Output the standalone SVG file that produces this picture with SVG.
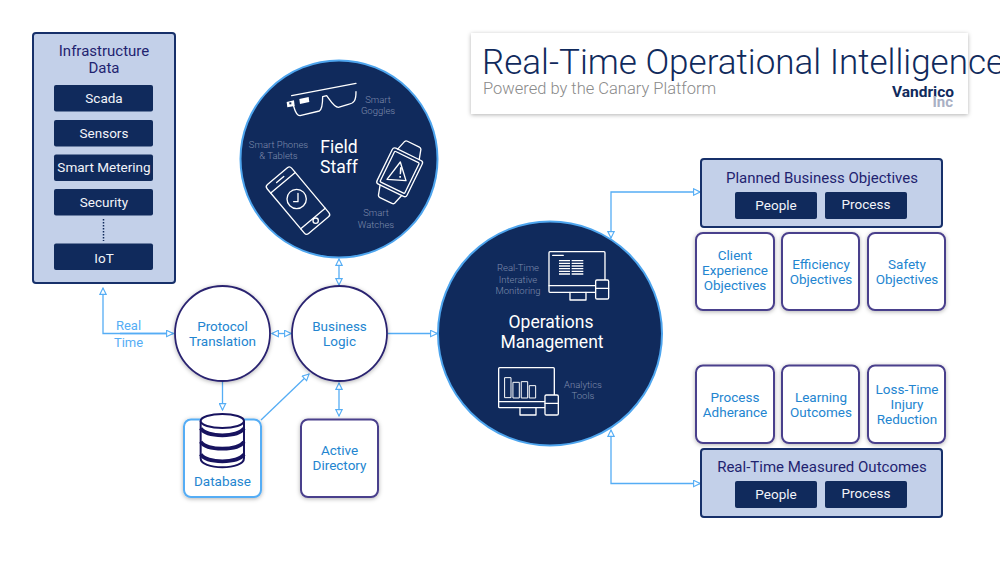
<svg xmlns="http://www.w3.org/2000/svg" width="1000" height="563" viewBox="0 0 1000 563">
<style>
text{font-family:Roboto,"Liberation Sans",sans-serif;text-anchor:middle}
.panel{fill:#c3d0e9;stroke:#17306a;stroke-width:2}
.chip{fill:#102a5c}
.chipt{fill:#f2f4f9;font-size:13.5px}
.head{fill:#1f2370;font-size:15px}
.card{fill:#fff;stroke:#4a3f8c;stroke-width:2;filter:url(#sh)}
.cardt{fill:#2385d0;font-size:13.5px}
.big{fill:#102a5c;stroke:#4ea5ee;stroke-width:2}
.bigt{fill:#fff;font-size:17.5px}
.cap{fill:#7f8cac;font-size:9.5px;font-weight:300}
.ic{fill:none;stroke:#fff;stroke-width:4;stroke-linejoin:round;stroke-linecap:round}
.icf{fill:#102a5c;stroke:#fff;stroke-width:4;stroke-linejoin:round}
.con{fill:none;stroke:#55adf5;stroke-width:1.3;marker-end:url(#ah)}
.two{marker-start:url(#ah)}
.db{fill:#fff;stroke:#17135f;stroke-width:6}
</style>
<defs>
<filter id="sh" x="-15%" y="-15%" width="130%" height="130%"><feDropShadow dx="0" dy="1" stdDeviation="2" flood-color="#000" flood-opacity=".3"/></filter>
<marker id="ah" viewBox="0 0 10 10" refX="9" refY="5" markerWidth="8" markerHeight="8" markerUnits="userSpaceOnUse" orient="auto-start-reverse"><path d="M1 1L9 5L1 9Z" fill="#fff" stroke="#55adf5" stroke-width="1.4"/></marker>
</defs>
<rect width="1000" height="563" fill="#fff"/>

<g id="connectors">
<path class="con" d="M174 333.5H103V288"/>
<path class="con" d="M174 333.5H103" style="display:none"/>
<path class="con" d="M120 333.5H173"/>
<path class="con two" d="M272 333.5H291"/>
<path class="con" d="M222.5 381V410"/>
<path class="con" d="M261 420L309 374"/>
<path class="con two" d="M339 383V416"/>
<path class="con two" d="M339 259V285"/>
<path class="con" d="M388 333.5H437"/>
<path class="con two" d="M611 238V192H700"/>
<path class="con two" d="M611 430V483.500H700"/>
</g>

<g id="infrastructure-data">
<rect class="panel" x="33" y="33" width="142" height="250" rx="3"/>
<text class="head" x="104" y="56">Infrastructure</text>
<text class="head" x="104" y="73">Data</text>
<rect class="chip" x="54" y="85" width="99" height="26.500" rx="2"/><text class="chipt" x="104" y="102.500">Scada</text>
<rect class="chip" x="54" y="120" width="99" height="26.500" rx="2"/><text class="chipt" x="104" y="137.500">Sensors</text>
<rect class="chip" x="54" y="154.500" width="99" height="26.500" rx="2"/><text class="chipt" x="104" y="172">Smart Metering</text>
<rect class="chip" x="54" y="189" width="99" height="26.500" rx="2"/><text class="chipt" x="104" y="206.500">Security</text>
<path d="M103.500 219V241" stroke="#102a5c" stroke-width="1.500" stroke-dasharray="1.500 1.500" fill="none"/>
<rect class="chip" x="54" y="243.500" width="99" height="26.500" rx="2"/><text class="chipt" x="104" y="263">IoT</text>
</g>

<g id="real-time-label"><text x="128.500" y="330" fill="#55adf5" font-size="13">Real</text><text x="128.500" y="347" fill="#55adf5" font-size="13">Time</text></g>

<g id="field-staff">
<circle class="big" cx="339" cy="159" r="98.500"/>
<text class="bigt" x="339" y="153">Field</text><text class="bigt" x="339" y="173">Staff</text>
<text class="cap" x="378" y="103">Smart</text><text class="cap" x="378" y="114">Goggles</text>
<text class="cap" x="278.500" y="148">Smart Phones</text><text class="cap" x="278.500" y="159">&amp; Tablets</text>
<text class="cap" x="376" y="216">Smart</text><text class="cap" x="376" y="228">Watches</text>
<g transform="translate(230 50) scale(.3333)">
<path class="ic" d="M185 137L378 100M378 125C378 152 372 160 355 163L325 172C312 172 300 150 290 137L278 140C278 160 275 178 268 183L210 197C197 197 193 175 190 165"/>
<path d="M170 156L192 151L194 168L172 172ZM208 147L236 141L238 156L210 162Z" fill="#fff"/>
<rect x="178" y="157" width="6" height="6" fill="#102a5c"/>
<g transform="translate(509 367) rotate(26)">
<path class="ic" d="M-36-60L-27-90Q-25-94-20-94H20Q25-94 27-90L36-60M-36 60L-27 90Q-25 94-20 94H20Q25 94 27 90L36 60"/>
<rect class="ic" x="-50" y="-60" width="100" height="120" rx="8"/>
<rect class="ic" x="-41" y="-51" width="82" height="102" rx="3"/>
</g>
<path class="ic" d="M511 336L471 388L528 392Z"/>
<path d="M510 352L516 352L513 373L509 373ZM508 378L513 378L513 383L508 383Z" fill="#fff"/>
<g transform="translate(204 452) rotate(-40)">
<rect class="ic" x="-48" y="-96" width="96" height="192" rx="9"/>
<path class="ic" d="M-48-70H48M-48 70H48M-14-83H14"/>
<circle class="ic" cx="0" cy="83" r="0"/>
</g>
<circle class="ic" cx="200" cy="447" r="29"/>
<path class="ic" d="M204 430V455H191"/>
<circle class="ic" cx="257" cy="512" r="8"/>
</g>
</g>

<g id="protocol-translation">
<circle cx="222.500" cy="333.500" r="47.500" fill="#fff" stroke="#2a2470" stroke-width="1.800" filter="url(#sh)"/>
<text class="cardt" x="222.500" y="331">Protocol</text><text class="cardt" x="222.500" y="346">Translation</text>
</g>
<g id="business-logic">
<circle cx="339.500" cy="333.500" r="47.500" fill="#fff" stroke="#2a2470" stroke-width="1.800" filter="url(#sh)"/>
<text class="cardt" x="339.500" y="331">Business</text><text class="cardt" x="339.500" y="346">Logic</text>
</g>

<g id="database">
<rect x="184" y="419.500" width="77" height="77.500" rx="7" fill="#fff" stroke="#55adf5" stroke-width="2" filter="url(#sh)"/>
<g transform="translate(90 280) scale(.3333)">
<path class="db" d="M332 425V535C332 552 362 562 397 562C432 562 462 552 462 535V425Z"/>
<ellipse class="db" cx="397" cy="423" rx="65" ry="21"/>
<path d="M332 445C350 473 444 473 462 445M332 485C350 513 444 513 462 485M332 523C350 551 444 551 462 523" fill="none" stroke="#17135f" stroke-width="11"/>
</g>
<text class="cardt" x="222.500" y="486">Database</text>
</g>

<g id="active-directory">
<rect class="card" x="301" y="419.500" width="77" height="77.500" rx="7"/>
<text class="cardt" x="339.500" y="455">Active</text><text class="cardt" x="339.500" y="470">Directory</text>
</g>

<g id="operations-management">
<circle class="big" cx="550" cy="333.500" r="112"/>
<text class="bigt" x="551" y="328">Operations</text><text class="bigt" x="552" y="348">Management</text>
<text class="cap" x="518" y="271">Real-Time</text><text class="cap" x="518" y="282.500">Interative</text><text class="cap" x="518" y="293.500">Monitoring</text>
<text class="cap" x="583" y="388">Analytics</text><text class="cap" x="583" y="399">Tools</text>
<g transform="translate(430 215) scale(.3333)">
<rect class="ic" x="357" y="110" width="168" height="122" rx="3"/>
<path class="ic" d="M357 212H525M420 232V255H468V232M368 121H400"/>
<path d="M387 137H420M387 145H420M387 153H420M387 161H420M387 169H420M387 177H420M425 137H460M425 145H460M425 153H460M425 161H460M425 169H460M425 177H460" stroke="#fff" stroke-width="4" fill="none"/>
<rect class="icf" x="497" y="195" width="39" height="57" rx="4"/>
<path class="ic" d="M497 220H536"/>
<rect class="ic" x="206" y="458" width="167" height="120" rx="3"/>
<path class="ic" d="M206 560H373M270 578V600H318V578"/>
<path class="ic" style="stroke-width:3" d="M225 488H243V548H225ZM250 502H268V549H250ZM275 500H293V549H275ZM299 512H317V549H299Z"/>
<rect class="icf" x="345" y="540" width="40" height="60" rx="4"/>
<path class="ic" d="M345 565H385"/>
</g>
</g>

<g id="title-card">
<rect x="471" y="33" width="497" height="81" fill="#fff" filter="url(#sh)"/>
<text x="482" y="74" fill="#102a5c" font-size="35" font-weight="300" style="text-anchor:start">Real-Time Operational Intelligence</text>
<text x="483" y="94" fill="#8a8a8a" font-size="16.500" font-weight="300" style="text-anchor:start">Powered by the Canary Platform</text>
<text x="954" y="97" fill="#102a5c" font-size="15.500" font-weight="700" style="text-anchor:end">Vandrico</text>
<text x="953" y="107" fill="#a9b0c4" font-size="15" font-weight="700" style="text-anchor:end">Inc</text>
</g>

<g id="planned-business-objectives">
<rect class="panel" x="701" y="159" width="241" height="68" rx="3"/>
<text class="head" x="822" y="183">Planned Business Objectives</text>
<rect class="chip" x="735" y="192" width="82" height="27" rx="2"/><text class="chipt" x="776" y="210">People</text>
<rect class="chip" x="825" y="192" width="82" height="27" rx="2"/><text class="chipt" x="866" y="209">Process</text>
</g>
<g id="client-experience-objectives"><rect class="card" x="696" y="233" width="78" height="77" rx="7"/><text class="cardt" x="735" y="260">Client</text><text class="cardt" x="735" y="275">Experience</text><text class="cardt" x="735" y="290">Objectives</text></g>
<g id="efficiency-objectives"><rect class="card" x="782" y="233" width="77" height="77" rx="7"/><text class="cardt" x="821" y="269">Efficiency</text><text class="cardt" x="821" y="284">Objectives</text></g>
<g id="safety-objectives"><rect class="card" x="868" y="233" width="77" height="77" rx="7"/><text class="cardt" x="907" y="269">Safety</text><text class="cardt" x="907" y="284">Objectives</text></g>

<g id="process-adherance"><rect class="card" x="696" y="365.500" width="78" height="77.500" rx="7"/><text class="cardt" x="735" y="402">Process</text><text class="cardt" x="735" y="417">Adherance</text></g>
<g id="learning-outcomes"><rect class="card" x="782" y="365.500" width="77" height="77.500" rx="7"/><text class="cardt" x="821" y="402">Learning</text><text class="cardt" x="821" y="417">Outcomes</text></g>
<g id="loss-time-injury-reduction"><rect class="card" x="868" y="365.500" width="77" height="77.500" rx="7"/><text class="cardt" x="907" y="394">Loss-Time</text><text class="cardt" x="907" y="409">Injury</text><text class="cardt" x="907" y="424">Reduction</text></g>

<g id="real-time-measured-outcomes">
<rect class="panel" x="701" y="449" width="241" height="68" rx="3"/>
<text class="head" x="822" y="472">Real-Time Measured Outcomes</text>
<rect class="chip" x="735" y="481" width="82" height="27" rx="2"/><text class="chipt" x="776" y="499">People</text>
<rect class="chip" x="825" y="481" width="82" height="27" rx="2"/><text class="chipt" x="866" y="498">Process</text>
</g>
</svg>
